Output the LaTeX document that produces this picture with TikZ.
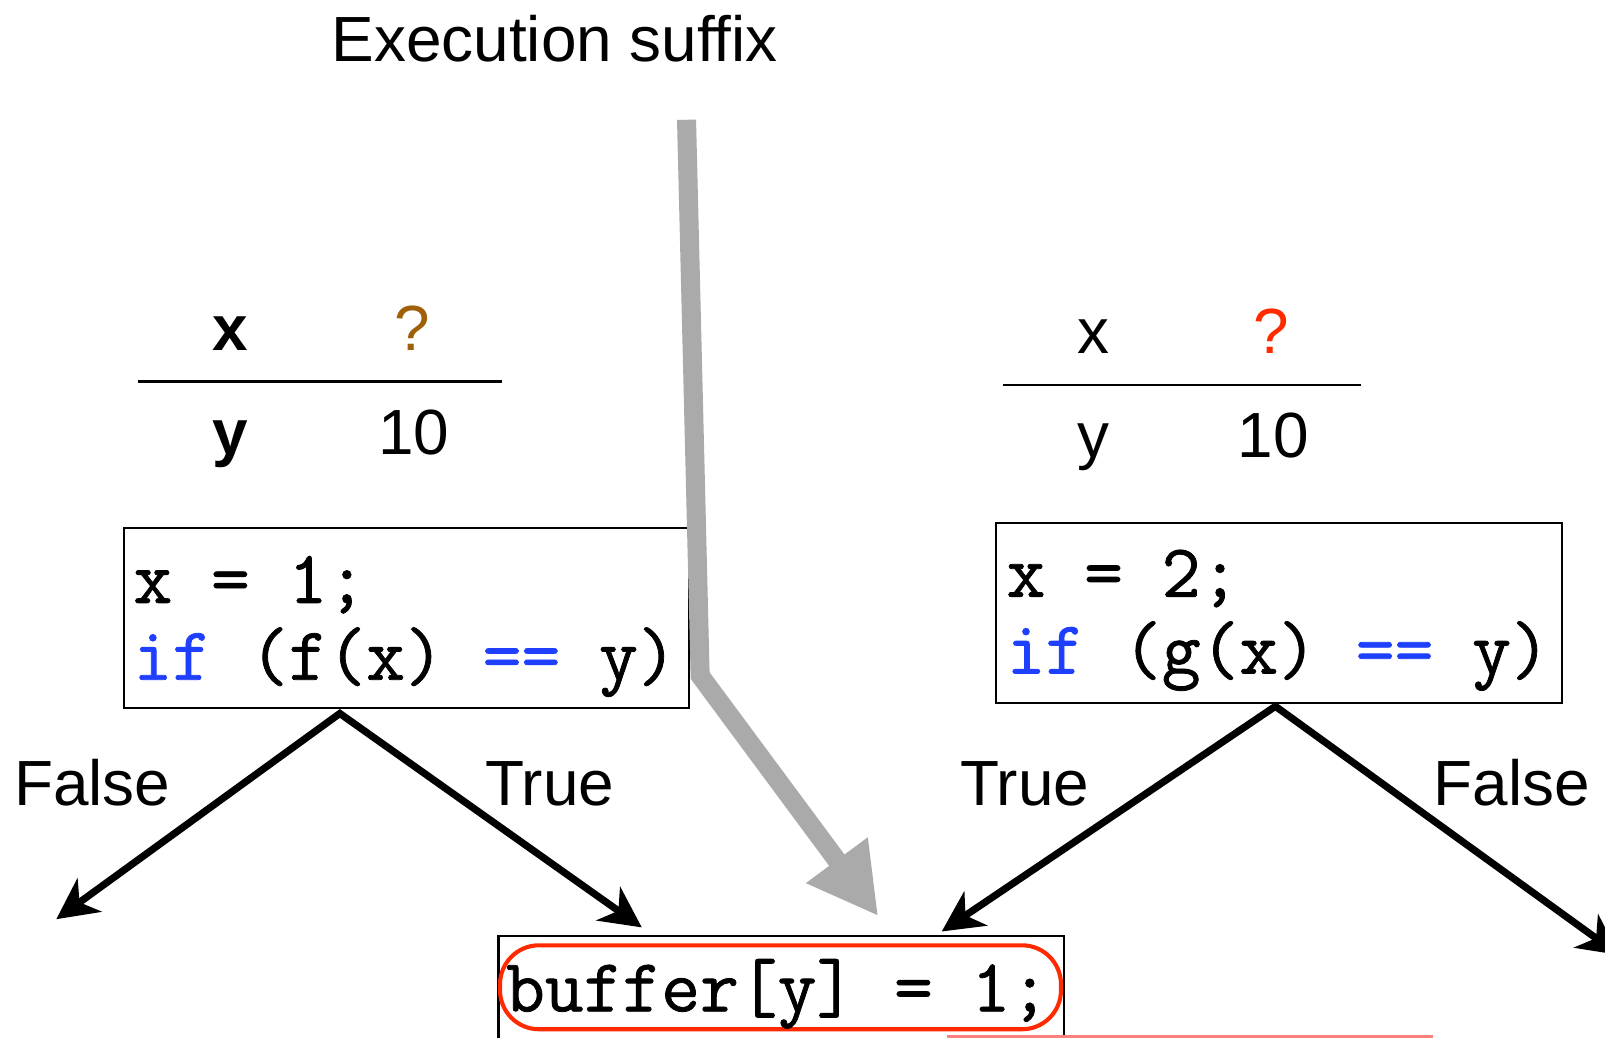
\documentclass[tikz,border=0pt]{standalone}
\usepackage{fontspec}
\setmainfont{Liberation Sans}
\newfontfamily\codefont[FakeBold=1]{Latin Modern Mono}
\usetikzlibrary{arrows.meta}
\definecolor{qbrown}{HTML}{A0600A}
\definecolor{qred}{HTML}{FF2A00}
\definecolor{kwblue}{HTML}{1F3FFF}
\definecolor{arrowgray}{HTML}{AAAAAA}
\definecolor{linered}{HTML}{FF7F7F}
\tikzset{
  lbl/.style={font=\fontsize{31.2}{36}\selectfont, inner sep=0pt, anchor=base},
  lblb/.style={font=\fontsize{31.2}{36}\selectfont\bfseries, inner sep=0pt, anchor=base},
  code/.style={font=\codefont\fontsize{36.8}{40}\selectfont, inner sep=0pt, anchor=base west},
  codebox/.style={draw, line width=1pt, inner sep=0pt},
  tablerule/.style={line width=1.3pt},
  branch/.style={line width=3.5pt, line join=miter,
    {Stealth[length=20pt,width=20pt,inset=6pt]}-{Stealth[length=20pt,width=20pt,inset=6pt]}},
  suffixarrow/.style={line width=9.3pt, draw=arrowgray, line join=miter,
    -{Triangle[length=34pt,width=35pt,fill=arrowgray]}},
  highlight/.style={draw=qred, line width=2pt, rounded corners=19pt, inner sep=0pt},
}
\begin{document}
\begin{tikzpicture}[x=0.5pt,y=-0.5pt]
\useasboundingbox (0,0) rectangle (1568,1014);
\fill[white] (0,0) rectangle (1568,1014);

% title
\node[lbl] (title) at (542,60) {Execution suffix};

% left table
\node[lblb] (lx) at (225,342) {x};
\node[lbl,text=qbrown] (lq) at (403,342) {?};
\draw[tablerule] (135,373) -- (490,373);
\node[lblb] (ly) at (225,444) {y};
\node[lbl] (lten) at (404,444) {10};

% right table
\node[lbl] (rx) at (1068,345) {x};
\node[lbl,text=qred] (rq) at (1242,345) {?};
\draw[tablerule] (980,376) -- (1330,376);
\node[lbl] (ry) at (1068,447) {y};
\node[lbl] (rten) at (1244,447) {10};

% left code box
\node[codebox, minimum width=276pt, minimum height=88pt] (lbox) at (397,604) {};
\node[code] (lone) at (130,589) {x = 1;};
\node[code] (ltwo) at (130,664) {\textcolor{kwblue}{if} (f(x) \textcolor{kwblue}{==} y)};

% right code box
\node[codebox, minimum width=276.5pt, minimum height=88pt] (rbox) at (1249.5,599) {};
\node[code] (rone) at (983,583) {x = 2;};
\node[code] (rtwo) at (983,658) {\textcolor{kwblue}{if} (g(x) \textcolor{kwblue}{==} y)};

% bottom box
\node[codebox, minimum width=276.25pt, minimum height=80pt, anchor=north west] (bbox) at (486,913.5) {};
\node[highlight, minimum width=274pt, minimum height=41pt, anchor=north west] (hl) at (486.5,921.5) {};
\node[code] (bone) at (494,988) {buffer[y] = 1;};
\draw[linered, line width=2pt] (925,1013) -- (1400,1013);

% branches
\coordinate (lapex) at (332,697);
\coordinate (lF) at (55,898);
\coordinate (lT) at (627,906);
\draw[branch] (lF) -- (lapex) -- (lT);
\coordinate (rapex) at (1246,690);
\coordinate (rT) at (920,910);
\coordinate (rF) at (1582,933);
\draw[branch] (rT) -- (rapex) -- (rF);

% execution suffix arrow
\coordinate (gtop) at (670.7,117);
\coordinate (gbend) at (684,660);
\coordinate (gtip) at (858,895);
\draw[suffixarrow] (gtop) -- (gbend) -- (gtip);

% branch labels
\node[lbl] (lfalse) at (90,787) {False};
\node[lbl] (ltrue) at (537,787) {True};
\node[lbl] (rtrue) at (1001,787) {True};
\node[lbl] (rfalse) at (1477,787) {False};
\end{tikzpicture}
\end{document}
